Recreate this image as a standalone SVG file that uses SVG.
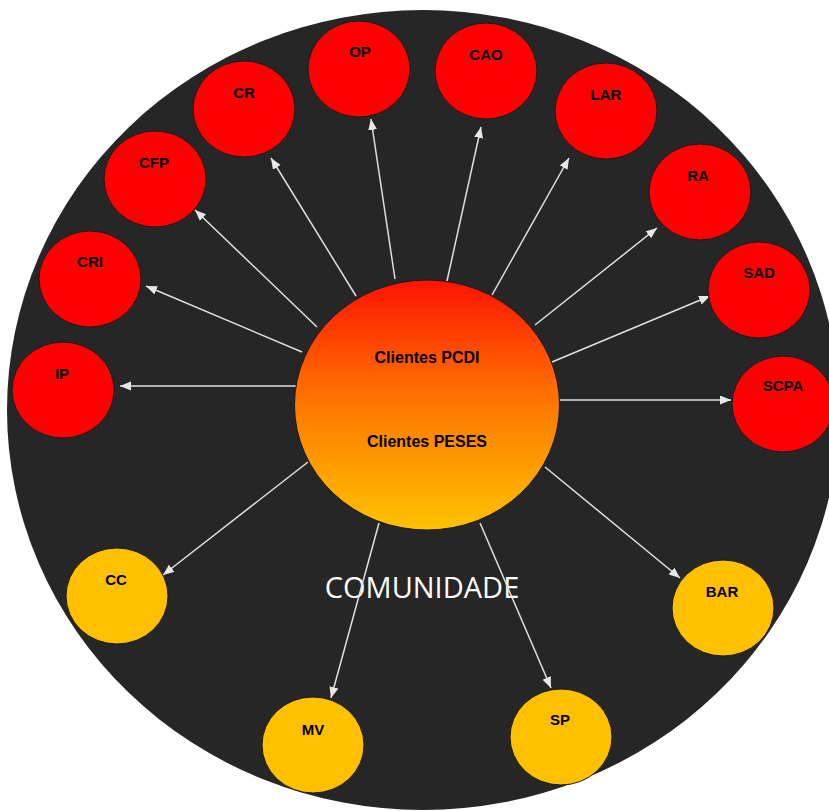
<svg xmlns="http://www.w3.org/2000/svg" width="829" height="811" viewBox="0 0 829 811">
<defs>
<linearGradient id="core" x1="0" y1="0" x2="0" y2="1">
<stop offset="0" stop-color="#ff1200"/>
<stop offset="0.45" stop-color="#ff7000"/>
<stop offset="1" stop-color="#ffc300"/>
</linearGradient>
<marker id="ah" markerUnits="userSpaceOnUse" markerWidth="12" markerHeight="10" refX="11" refY="4.5" orient="auto">
<path d="M0,0 L11,4.5 L0,9 Z" fill="#e8e8e8"/>
</marker>
<style>
.red{fill:#ff0000;stroke:#1a1a1a;stroke-width:1}
.yel{fill:#ffc000;stroke:#1a1a1a;stroke-width:1}
.lbl{font-family:"Comic Sans MS","Liberation Sans",sans-serif;font-weight:bold;font-size:15px;fill:#000;text-anchor:middle}
.big{font-size:16px}
.arr{stroke:#e0e0e0;stroke-width:1.5;fill:none;marker-end:url(#ah)}
</style>
</defs>
<rect width="829" height="811" fill="#ffffff"/>
<ellipse id="community" cx="423" cy="410" rx="416" ry="400" fill="#262626"/>
<text x="422" y="598" font-family="'Open Sans',sans-serif" font-size="29" fill="#ffffff" text-anchor="middle">COMUNIDADE</text>
<g id="connectors">
<line class="arr" x1="296" y1="386" x2="120" y2="386"/>
<line class="arr" x1="302" y1="352" x2="146" y2="286"/>
<line class="arr" x1="317" y1="327" x2="195" y2="210"/>
<line class="arr" x1="356" y1="296" x2="271" y2="158"/>
<line class="arr" x1="395" y1="279" x2="371" y2="119"/>
<line class="arr" x1="447" y1="281" x2="481" y2="127"/>
<line class="arr" x1="492" y1="295" x2="569" y2="158"/>
<line class="arr" x1="535" y1="325" x2="657" y2="228"/>
<line class="arr" x1="552" y1="362" x2="710" y2="296"/>
<line class="arr" x1="560" y1="400" x2="731" y2="400"/>
<line class="arr" x1="308" y1="462" x2="163" y2="575"/>
<line class="arr" x1="379" y1="523" x2="331" y2="698"/>
<line class="arr" x1="480" y1="523" x2="551" y2="688"/>
<line class="arr" x1="545" y1="467" x2="680" y2="578"/>
</g>
<g id="center">
<ellipse cx="427" cy="405" rx="132.5" ry="125" fill="url(#core)" stroke="#1a1a1a" stroke-width="1"/>
<text class="lbl big" x="427" y="363">Clientes PCDI</text>
<text class="lbl big" x="427" y="447">Clientes PESES</text>
</g>
<g id="IP"><ellipse class="red" cx="63" cy="390" rx="51" ry="48"/><text class="lbl" x="62" y="379">IP</text></g>
<g id="CRI"><ellipse class="red" cx="90" cy="279" rx="51" ry="48"/><text class="lbl" x="90" y="267">CRI</text></g>
<g id="CFP"><ellipse class="red" cx="155" cy="179" rx="51" ry="48"/><text class="lbl" x="154" y="168">CFP</text></g>
<g id="CR"><ellipse class="red" cx="244" cy="109" rx="51" ry="48"/><text class="lbl" x="244" y="98">CR</text></g>
<g id="OP"><ellipse class="red" cx="359" cy="69" rx="51" ry="48"/><text class="lbl" x="360" y="57">OP</text></g>
<g id="CAO"><ellipse class="red" cx="486" cy="71" rx="51" ry="48"/><text class="lbl" x="486" y="60">CAO</text></g>
<g id="LAR"><ellipse class="red" cx="606" cy="111" rx="51" ry="48"/><text class="lbl" x="606" y="100">LAR</text></g>
<g id="RA"><ellipse class="red" cx="700" cy="192" rx="51" ry="48"/><text class="lbl" x="698" y="181">RA</text></g>
<g id="SAD"><ellipse class="red" cx="759" cy="290" rx="51" ry="48"/><text class="lbl" x="759" y="278">SAD</text></g>
<g id="SCPA"><ellipse class="red" cx="783" cy="404" rx="51" ry="48"/><text class="lbl" x="783" y="391">SCPA</text></g>
<g id="CC"><ellipse class="yel" cx="117" cy="596" rx="51" ry="48"/><text class="lbl" x="116" y="585">CC</text></g>
<g id="MV"><ellipse class="yel" cx="313" cy="745" rx="51" ry="48"/><text class="lbl" x="313" y="735">MV</text></g>
<g id="SP"><ellipse class="yel" cx="561" cy="737" rx="51" ry="48"/><text class="lbl" x="560" y="725">SP</text></g>
<g id="BAR"><ellipse class="yel" cx="723" cy="608" rx="51" ry="48"/><text class="lbl" x="722" y="597">BAR</text></g>
</svg>
